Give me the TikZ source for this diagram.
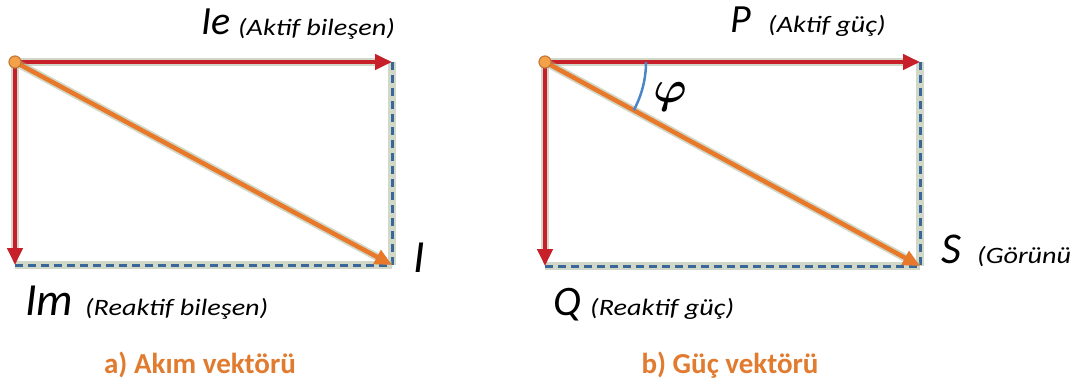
\documentclass[tikz,border=0pt]{standalone}
\usepackage{fontspec}
\usepackage{bm}
\setmainfont{Carlito}
\usetikzlibrary{arrows.meta}
\definecolor{vecred}{HTML}{C8202A}
\definecolor{vecorange}{HTML}{E8782A}
\definecolor{dashblue}{HTML}{3A679A}
\definecolor{halo}{HTML}{A3B18F}
\definecolor{titleorange}{HTML}{E07B30}
\definecolor{dotfill}{HTML}{F4A24A}
\definecolor{dotline}{HTML}{C77A35}
\definecolor{arcblue}{HTML}{4A86C8}
\newcommand{\note}[1]{\scalebox{1.2}[1]{#1}}
\tikzset{
  glow/.style={preaction={draw=halo, line width=8pt, opacity=0.5}},
  component/.style={glow, draw=vecred, line width=4pt, -{Triangle[length=17pt,width=15pt]}},
  resultant/.style={glow, draw=vecorange, line width=4.5pt, -{Triangle[length=17pt,width=15pt]}},
  closing/.style={glow, draw=dashblue, line width=3pt, dash pattern=on 8pt off 5pt},
  origin/.style={circle, fill=dotfill, draw=dotline, line width=1.2pt, minimum size=12pt, inner sep=0pt},
  anglearc/.style={draw=arcblue, line width=2.5pt},
  biglabel/.style={font=\fontsize{#1}{#1}\selectfont\itshape, inner sep=0pt, anchor=base west},
  biglabel/.default=40,
  smalllabel/.style={font=\fontsize{23.5}{26}\selectfont\itshape, inner sep=0pt, anchor=base west},
  caption/.style={font=\fontsize{29}{32}\selectfont\bfseries, text=titleorange, inner sep=0pt, anchor=base},
}

\begin{document}
\begin{tikzpicture}[x=1pt, y=-1pt]
  \useasboundingbox (0,0) rectangle (1073,382);

  % a) current vectors
  \coordinate (oa) at (15,62);
  \coordinate (ea) at (392,62);
  \coordinate (ma) at (15,265);
  \coordinate (ia) at (392,265);

  \draw[closing] (ea) -- (ia);
  \draw[closing] (ma) -- (ia);
  \draw[component] (oa) -- (ea);
  \draw[component] (oa) -- (ma);
  \draw[resultant] (oa) -- (ia);
  \node[origin] (dota) at (oa) {};

  \node[biglabel=40] (ielbl) at (201,35) {Ie};
  \node[smalllabel] (ietxt) at (238,36) {\note{(Aktif bileşen)}};
  \node[biglabel=46] (imlbl) at (25,315) {Im};
  \node[smalllabel] (imtxt) at (85,315) {\note{(Reaktif bileşen)}};
  \node[biglabel=46] (ilbl) at (413,272) {I};
  \node[caption] (capa) at (200,373) {a) Akım vektörü};

  % b) power vectors
  \coordinate (ob) at (545,62);
  \coordinate (pb) at (920,62);
  \coordinate (qb) at (545,266);
  \coordinate (sb) at (920,266);

  \draw[closing] (pb) -- (sb);
  \draw[closing] (qb) -- (sb);
  \draw[component] (ob) -- (pb);
  \draw[component] (ob) -- (qb);
  \draw[resultant] (ob) -- (sb);
  \node[origin] (dotb) at (ob) {};
  \draw[anglearc] (ob) ++(101,0) arc[start angle=0, end angle=28.5, radius=101];

  \node[inner sep=0pt] (phi) at (670,97) {\scalebox{1.8}{\fontsize{24}{26}\selectfont$\bm{\varphi}$}};
  \node[biglabel=40] (plbl) at (730,33) {P};
  \node[smalllabel] (ptxt) at (768,33) {\note{(Aktif güç)}};
  \node[biglabel=44] (slbl) at (941,263) {S};
  \node[smalllabel] (stxt) at (977,263) {\note{(Görünü}};
  \node[biglabel=42] (qlbl) at (553,315) {Q};
  \node[smalllabel] (qtxt) at (590,315) {\note{(Reaktif güç)}};
  \node[caption] (capb) at (730,373) {b) Güç vektörü};
\end{tikzpicture}
\end{document}
